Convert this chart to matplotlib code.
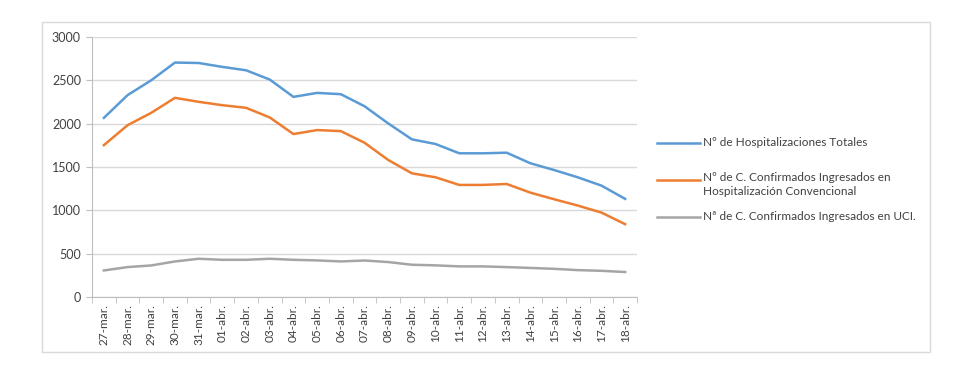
import matplotlib.pyplot as plt
from matplotlib.lines import Line2D
from matplotlib.patches import Rectangle

plt.rcParams['font.family'] = ['Lato', 'DejaVu Sans']

# Datos
fechas = ['27-mar.', '28-mar.', '29-mar.', '30-mar.', '31-mar.',
          '01-abr.', '02-abr.', '03-abr.', '04-abr.', '05-abr.', '06-abr.',
          '07-abr.', '08-abr.', '09-abr.', '10-abr.', '11-abr.', '12-abr.',
          '13-abr.', '14-abr.', '15-abr.', '16-abr.', '17-abr.', '18-abr.']
hosp_totales = [2067, 2329, 2501, 2705, 2700, 2655, 2616, 2509, 2309, 2355, 2340,
                2201, 2003, 1819, 1765, 1658, 1658, 1665, 1543, 1465, 1381, 1285, 1132]
hosp_convencional = [1752, 1982, 2125, 2298, 2252, 2213, 2183, 2072, 1880, 1926, 1914,
                     1780, 1581, 1427, 1381, 1293, 1293, 1304, 1204, 1128, 1055, 974, 840]
ingresos_uci = [306, 345, 364, 410, 441, 429, 429, 441, 429, 422, 410,
                421, 403, 372, 365, 353, 353, 345, 335, 325, 310, 302, 288]

etiquetas = ['Nº de Hospitalizaciones Totales',
             'Nº de C. Confirmados Ingresados en\nHospitalización Convencional',
             'Nª de C. Confirmados Ingresados en UCI.']
colores = ['#5B9BD5', '#ED7D31', '#A5A5A5']
series = [hosp_totales, hosp_convencional, ingresos_uci]

fig = plt.figure(figsize=(9.8, 3.87), dpi=100)
ax = fig.add_axes([0.0939, 0.2326, 0.5561, 0.6718])

x = list(range(len(fechas)))
for valores, color in zip(series, colores):
    ax.plot(x, valores, color=color, lw=1.8, solid_joinstyle='round')

ax.set_xlim(-0.5, len(fechas) - 0.5)
ax.set_ylim(0, 3000)
ax.set_yticks(range(0, 3001, 500))
ax.set_xticks(x)
ax.set_xticklabels(fechas, rotation=90, fontsize=8.5, color='#404040')
ax.set_xticks([i - 0.5 for i in range(len(fechas) + 1)], minor=True)
ax.tick_params(axis='x', which='major', length=0, pad=5)
ax.tick_params(axis='x', which='minor', length=4, color='#BFBFBF')
ax.tick_params(axis='y', length=4, color='#BFBFBF', labelsize=9, labelcolor='#404040', pad=4)

ax.grid(axis='y', color='#D9D9D9', lw=1)
ax.set_axisbelow(True)
for lado in ['top', 'right']:
    ax.spines[lado].set_visible(False)
ax.spines['left'].set_color('#BFBFBF')
ax.spines['bottom'].set_color('#BFBFBF')

# Leyenda manual
pos_y = [143, 180, 217]
for etiqueta, color, py in zip(etiquetas, colores, pos_y):
    yf = 1 - py / 387
    fig.add_artist(Line2D([657 / 980, 700 / 980], [yf, yf], color=color, lw=1.8))
    txt = fig.text(703 / 980, yf, etiqueta, fontsize=8.5, color='#404040',
                   va='center', linespacing=1.25)
    if '\n' in etiqueta:
        txt.set_va('top')
        txt.set_y(yf + 7.5 / 387)

# Marco exterior
fig.add_artist(Rectangle((42 / 980, 1 - 352 / 387), 888 / 980, 330 / 387,
                         transform=fig.transFigure, fill=False,
                         edgecolor='#D9D9D9', lw=1))

fig.savefig('out.png', dpi=100)
